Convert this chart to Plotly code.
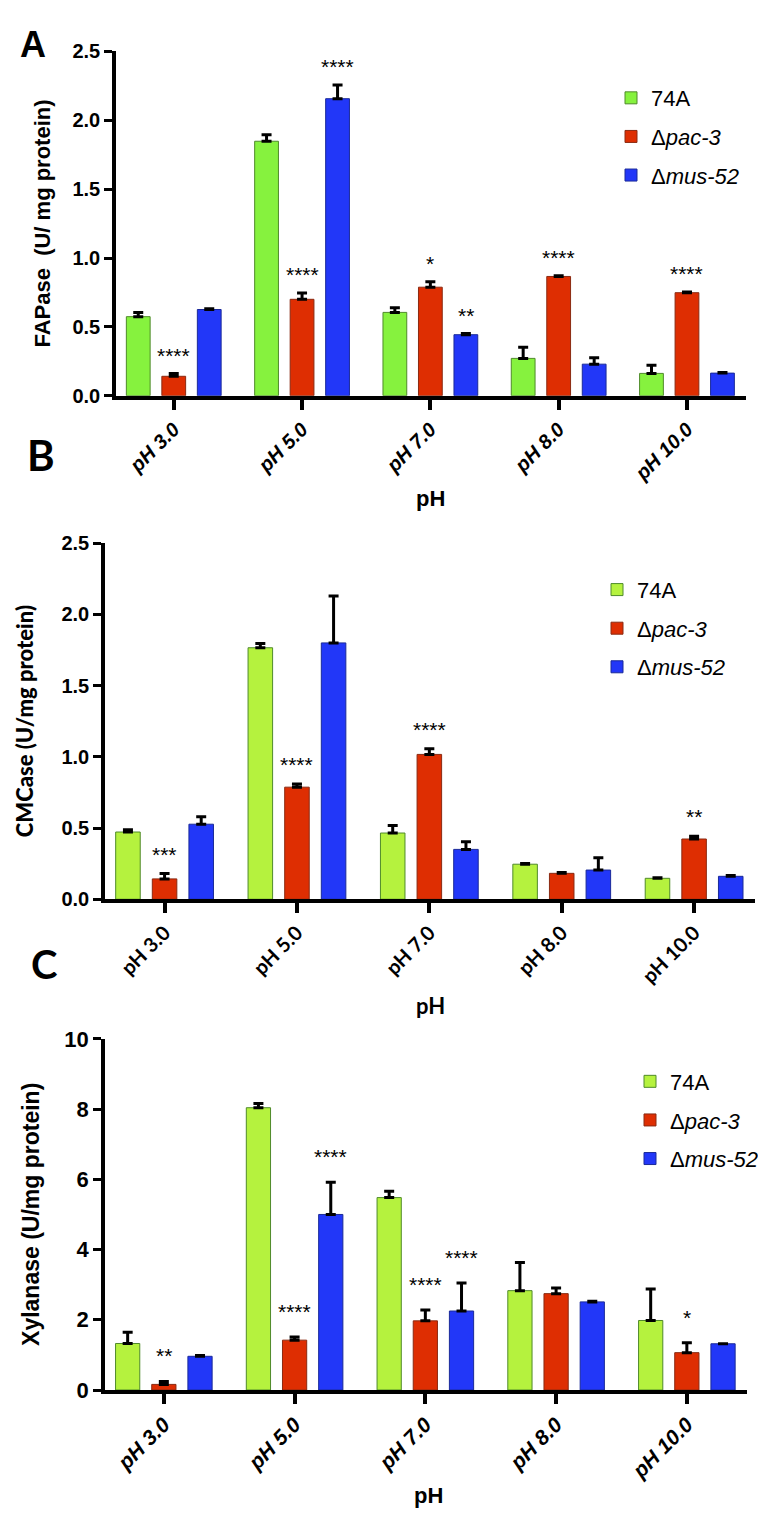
import plotly.graph_objects as go

W, H = 766, 1515

categories = ["pH 3.0", "pH 5.0", "pH 7.0", "pH 8.0", "pH 10.0"]
series_names = ["74A", "Δ<i>pac-3</i>", "Δ<i>mus-52</i>"]

# Panel A - FAPase (U/ mg protein)
fap_74a = [0.574, 1.848, 0.605, 0.271, 0.162]
fap_74a_err = [0.03, 0.047, 0.033, 0.08, 0.06]
fap_pac3 = [0.141, 0.70, 0.788, 0.866, 0.748]
fap_pac3_err = [0.02, 0.045, 0.04, 0.006, 0.005]
fap_mus52 = [0.626, 2.157, 0.443, 0.229, 0.164]
fap_mus52_err = [0.006, 0.10, 0.008, 0.047, 0.005]
fap_stars = [(1, 0, "****"), (1, 1, "****"), (2, 1, "****"), (1, 2, "*"),
             (2, 2, "**"), (1, 3, "****"), (1, 4, "****")]

# Panel B - CMCase (U/mg protein)
cmc_74a = [0.472, 1.766, 0.465, 0.246, 0.147]
cmc_74a_err = [0.016, 0.03, 0.053, 0.005, 0.004]
cmc_pac3 = [0.143, 0.787, 1.017, 0.182, 0.423]
cmc_pac3_err = [0.037, 0.023, 0.04, 0.005, 0.02]
cmc_mus52 = [0.527, 1.80, 0.35, 0.205, 0.161]
cmc_mus52_err = [0.053, 0.33, 0.053, 0.087, 0.005]
cmc_stars = [(1, 0, "***"), (1, 1, "****"), (1, 2, "****"), (1, 4, "**")]

# Panel C - Xylanase (U/mg protein)
xyl_74a = [1.325, 8.04, 5.48, 2.83, 1.98]
xyl_74a_err = [0.32, 0.12, 0.18, 0.80, 0.90]
xyl_pac3 = [0.16, 1.42, 1.97, 2.745, 1.064]
xyl_pac3_err = [0.084, 0.09, 0.31, 0.16, 0.28]
xyl_mus52 = [0.96, 5.0, 2.25, 2.51, 1.317]
xyl_mus52_err = [0.02, 0.92, 0.80, 0.02, None]
xyl_stars = [(1, 0, "**"), (1, 1, "****"), (2, 1, "****"), (1, 2, "****"),
             (2, 2, "****"), (1, 4, "*")]

BARGAP = 0.17
BARGROUPGAP = 0.33

RED = "#DE2E02"
BLUE = "#2237F8"
OUT = ["#4F8A2A", "#8A2A12", "#1A2A99"]
ARIAL = "Arial, Liberation Sans"

panels = [
    dict(key="", vals=[fap_74a, fap_pac3, fap_mus52],
         errs=[fap_74a_err, fap_pac3_err, fap_mus52_err], stars=fap_stars,
         colors=["#86F23E", RED, BLUE], xpx=(108, 738), ypx=(32, 382),
         yrange=[0, 2.5], dtick=0.5, fmt=".1f", star_shift=5,
         tickfont=dict(family=ARIAL, size=20, color="black", weight="bold"),
         xtickfont=dict(family=ARIAL, size=20, color="black", weight="bold", style="italic"),
         legend=dict(x=603, y=58)),
    dict(key="2", vals=[cmc_74a, cmc_pac3, cmc_mus52],
         errs=[cmc_74a_err, cmc_pac3_err, cmc_mus52_err], stars=cmc_stars,
         colors=["#B5F23E", RED, BLUE], xpx=(97, 747), ypx=(532, 894),
         yrange=[0, 2.5], dtick=0.5, fmt=".1f", star_shift=6,
         tickfont=dict(family=ARIAL, size=20, color="black", weight="bold"),
         xtickfont=dict(family="Lato", size=20, color="black", weight="bold"),
         legend=dict(x=589, y=558)),
    dict(key="3", vals=[xyl_74a, xyl_pac3, xyl_mus52],
         errs=[xyl_74a_err, xyl_pac3_err, xyl_mus52_err], stars=xyl_stars,
         colors=["#B5F23E", RED, BLUE], xpx=(97, 739), ypx=(1036, 1393),
         yrange=[0, 10], dtick=2, fmt="d", star_shift=12,
         tickfont=dict(family=ARIAL, size=22, color="black", weight="bold"),
         xtickfont=dict(family=ARIAL, size=21, color="black", weight="bold", style="italic"),
         legend=dict(x=622, y=1058)),
]

fig = go.Figure()
annotations = []
layout = dict(
    width=W, height=H, margin=dict(l=0, r=0, t=0, b=0),
    paper_bgcolor="white", plot_bgcolor="white",
    barmode="group", bargap=BARGAP, bargroupgap=BARGROUPGAP,
    showlegend=True,
)

for p in panels:
    k = p["key"]
    xa, ya = "x" + k, "y" + k
    leg = "legend" + k
    for i in range(3):
        err = p["errs"][i]
        arr = [e if e is not None else None for e in err]
        arrm = [0 if e is not None else None for e in err]
        fig.add_trace(go.Bar(
            x=categories, y=p["vals"][i], name=series_names[i],
            xaxis=xa, yaxis=ya, legend=leg, legendgroup=k + str(i),
            marker=dict(color=p["colors"][i], line=dict(color=OUT[i], width=1)),
            error_y=dict(type="data", symmetric=False, array=arr, arrayminus=arrm,
                         color="black", thickness=3, width=5),
        ))
    x0, x1 = p["xpx"]
    ytop, ybot = p["ypx"]
    layout["xaxis" + k] = dict(
        domain=[x0 / W, x1 / W], anchor=ya, type="category",
        range=[-0.45, 4.46], showline=True, linecolor="black", linewidth=4,
        ticks="outside", ticklen=10, tickwidth=4, tickcolor="black",
        tickangle=-45, tickfont=p["xtickfont"], showgrid=False, zeroline=False,
        fixedrange=True,
    )
    layout["yaxis" + k] = dict(
        domain=[1 - ybot / H, 1 - ytop / H], anchor=xa,
        range=p["yrange"], dtick=p["dtick"], tick0=0, tickformat=p["fmt"],
        showline=True, linecolor="black", linewidth=3.5,
        ticks="outside", ticklen=8, tickwidth=3, tickcolor="black",
        tickfont=p["tickfont"], showgrid=False, zeroline=False, fixedrange=True,
    )
    layout[leg] = dict(
        x=p["legend"]["x"] / W, y=1 - p["legend"]["y"] / H, xanchor="left", yanchor="top",
        bgcolor="rgba(0,0,0,0)", tracegroupgap=7, traceorder="grouped",
        font=dict(family=ARIAL, size=22, color="black"),
    )
    pitch = (1 - BARGAP) / 3
    for s, c, t in p["stars"]:
        e = p["errs"][s][c] or 0
        annotations.append(dict(
            x=c + (s - 1) * pitch, y=p["vals"][s][c] + e, xref=xa, yref=ya,
            text=t, showarrow=False, yanchor="bottom", xanchor="center",
            yshift=p["star_shift"],
            font=dict(family=ARIAL, size=21, color="black"),
        ))


def txt(text, x, y, size, family, angle=0, weight="bold"):
    annotations.append(dict(
        text=text, x=x / W, y=1 - y / H, xref="paper", yref="paper",
        showarrow=False, xanchor="center", yanchor="middle", textangle=angle,
        font=dict(family=family, size=size, color="black", weight=weight),
    ))


txt("A", 25, 25, 36, ARIAL)
txt("B", 33, 442, 42, "Lato")
txt("C", 36, 960, 40, "Lato")
txt("FAPase\u00a0 (U/ mg protein)", 35, 207, 22, ARIAL, angle=-90)
txt("CMCase (U/mg protein)", 16, 713, 22, "Lato", angle=-90, weight=900)
txt("Xylanase (U/mg protein)", 23, 1215, 23, ARIAL, angle=-90)
txt("pH", 422, 487, 22, ARIAL)
txt("pH", 422, 1002, 22, "Lato")
txt("pH", 420, 1500, 22, ARIAL)

layout["annotations"] = annotations
fig.update_layout(**layout)
fig.write_html("out.html")
